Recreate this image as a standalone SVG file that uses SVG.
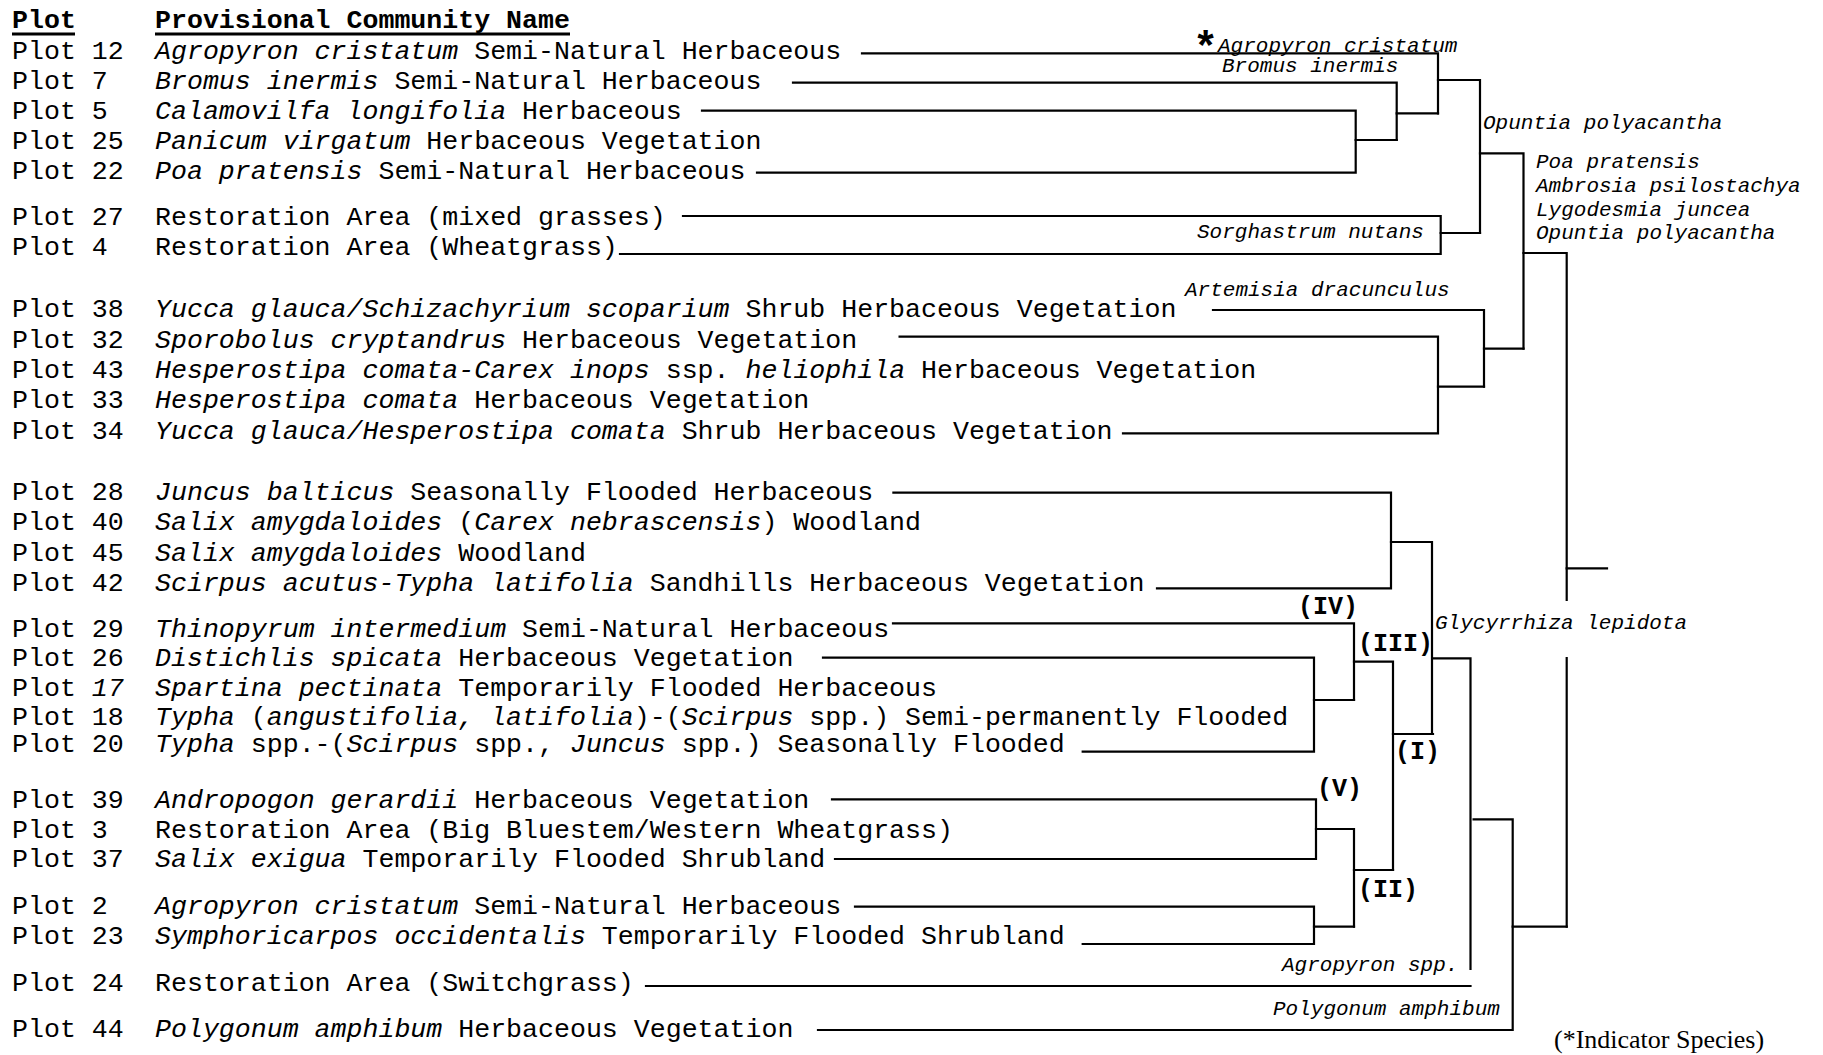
<svg xmlns="http://www.w3.org/2000/svg" width="1823" height="1055" viewBox="0 0 1823 1055">
<style>
.t{font-family:"Liberation Mono","Courier New",monospace;font-size:26.6px;fill:#000}
.i{font-style:italic}
.h{font-weight:bold}
.lbl{font-family:"Liberation Mono","Courier New",monospace;font-size:21px;font-style:italic;fill:#000}
.b{font-family:"Liberation Mono","Courier New",monospace;font-size:25px;font-weight:bold;fill:#000}
.ln{stroke:#000;stroke-width:2.2;fill:none;stroke-linecap:square}
.ul{stroke:#000;stroke-width:3}
.note{font-family:"Liberation Serif","Times New Roman",serif;font-size:26px;fill:#000}
</style>
<rect width="1823" height="1055" fill="#fff"/>
<g id="header">
<text class="t h" x="12" y="28">Plot</text>
<text class="t h" x="155" y="28">Provisional Community Name</text>
<line class="ul" x1="12" y1="34" x2="75" y2="34"/>
<line class="ul" x1="155" y1="34" x2="570" y2="34"/>
</g>
<g id="leaves">
<g id="plot-12"><text class="t" x="12" y="59">Plot 12</text><text class="t" x="155" y="59" xml:space="preserve"><tspan class="i">Agropyron cristatum</tspan> Semi-Natural Herbaceous</text></g>
<g id="plot-7"><text class="t" x="12" y="89">Plot 7</text><text class="t" x="155" y="89" xml:space="preserve"><tspan class="i">Bromus inermis</tspan> Semi-Natural Herbaceous</text></g>
<g id="plot-5"><text class="t" x="12" y="119">Plot 5</text><text class="t" x="155" y="119" xml:space="preserve"><tspan class="i">Calamovilfa longifolia</tspan> Herbaceous</text></g>
<g id="plot-25"><text class="t" x="12" y="149">Plot 25</text><text class="t" x="155" y="149" xml:space="preserve"><tspan class="i">Panicum virgatum</tspan> Herbaceous Vegetation</text></g>
<g id="plot-22"><text class="t" x="12" y="179">Plot 22</text><text class="t" x="155" y="179" xml:space="preserve"><tspan class="i">Poa pratensis</tspan> Semi-Natural Herbaceous</text></g>
<g id="plot-27"><text class="t" x="12" y="225">Plot 27</text><text class="t" x="155" y="225">Restoration Area (mixed grasses)</text></g>
<g id="plot-4"><text class="t" x="12" y="255">Plot 4</text><text class="t" x="155" y="255">Restoration Area (Wheatgrass)</text></g>
<g id="plot-38"><text class="t" x="12" y="317">Plot 38</text><text class="t" x="155" y="317" xml:space="preserve"><tspan class="i">Yucca glauca/Schizachyrium scoparium</tspan> Shrub Herbaceous Vegetation</text></g>
<g id="plot-32"><text class="t" x="12" y="348">Plot 32</text><text class="t" x="155" y="348" xml:space="preserve"><tspan class="i">Sporobolus cryptandrus</tspan> Herbaceous Vegetation</text></g>
<g id="plot-43"><text class="t" x="12" y="378">Plot 43</text><text class="t" x="155" y="378" xml:space="preserve"><tspan class="i">Hesperostipa comata-Carex inops</tspan> ssp. <tspan class="i">heliophila</tspan> Herbaceous Vegetation</text></g>
<g id="plot-33"><text class="t" x="12" y="408">Plot 33</text><text class="t" x="155" y="408" xml:space="preserve"><tspan class="i">Hesperostipa comata</tspan> Herbaceous Vegetation</text></g>
<g id="plot-34"><text class="t" x="12" y="439">Plot 34</text><text class="t" x="155" y="439" xml:space="preserve"><tspan class="i">Yucca glauca/Hesperostipa comata</tspan> Shrub Herbaceous Vegetation</text></g>
<g id="plot-28"><text class="t" x="12" y="500">Plot 28</text><text class="t" x="155" y="500" xml:space="preserve"><tspan class="i">Juncus balticus</tspan> Seasonally Flooded Herbaceous</text></g>
<g id="plot-40"><text class="t" x="12" y="530">Plot 40</text><text class="t" x="155" y="530" xml:space="preserve"><tspan class="i">Salix amygdaloides</tspan> (<tspan class="i">Carex nebrascensis</tspan>) Woodland</text></g>
<g id="plot-45"><text class="t" x="12" y="561">Plot 45</text><text class="t" x="155" y="561" xml:space="preserve"><tspan class="i">Salix amygdaloides</tspan> Woodland</text></g>
<g id="plot-42"><text class="t" x="12" y="591">Plot 42</text><text class="t" x="155" y="591" xml:space="preserve"><tspan class="i">Scirpus acutus-Typha latifolia</tspan> Sandhills Herbaceous Vegetation</text></g>
<g id="plot-29"><text class="t" x="12" y="637">Plot 29</text><text class="t" x="155" y="637" xml:space="preserve"><tspan class="i">Thinopyrum intermedium</tspan> Semi-Natural Herbaceous</text></g>
<g id="plot-26"><text class="t" x="12" y="666">Plot 26</text><text class="t" x="155" y="666" xml:space="preserve"><tspan class="i">Distichlis spicata</tspan> Herbaceous Vegetation</text></g>
<g id="plot-17"><text class="t" x="12" y="696" xml:space="preserve">Plot <tspan class="i">17</tspan></text><text class="t" x="155" y="696" xml:space="preserve"><tspan class="i">Spartina pectinata</tspan> Temporarily Flooded Herbaceous</text></g>
<g id="plot-18"><text class="t" x="12" y="725">Plot 18</text><text class="t" x="155" y="725" xml:space="preserve"><tspan class="i">Typha</tspan> (<tspan class="i">angustifolia, latifolia</tspan>)-(<tspan class="i">Scirpus</tspan> spp.) Semi-permanently Flooded</text></g>
<g id="plot-20"><text class="t" x="12" y="752">Plot 20</text><text class="t" x="155" y="752" xml:space="preserve"><tspan class="i">Typha</tspan> spp.-(<tspan class="i">Scirpus</tspan> spp., <tspan class="i">Juncus</tspan> spp.) Seasonally Flooded</text></g>
<g id="plot-39"><text class="t" x="12" y="808">Plot 39</text><text class="t" x="155" y="808" xml:space="preserve"><tspan class="i">Andropogon gerardii</tspan> Herbaceous Vegetation</text></g>
<g id="plot-3"><text class="t" x="12" y="838">Plot 3</text><text class="t" x="155" y="838">Restoration Area (Big Bluestem/Western Wheatgrass)</text></g>
<g id="plot-37"><text class="t" x="12" y="867">Plot 37</text><text class="t" x="155" y="867" xml:space="preserve"><tspan class="i">Salix exigua</tspan> Temporarily Flooded Shrubland</text></g>
<g id="plot-2"><text class="t" x="12" y="914">Plot 2</text><text class="t" x="155" y="914" xml:space="preserve"><tspan class="i">Agropyron cristatum</tspan> Semi-Natural Herbaceous</text></g>
<g id="plot-23"><text class="t" x="12" y="944">Plot 23</text><text class="t" x="155" y="944" xml:space="preserve"><tspan class="i">Symphoricarpos occidentalis</tspan> Temporarily Flooded Shrubland</text></g>
<g id="plot-24"><text class="t" x="12" y="991">Plot 24</text><text class="t" x="155" y="991">Restoration Area (Switchgrass)</text></g>
<g id="plot-44"><text class="t" x="12" y="1037">Plot 44</text><text class="t" x="155" y="1037" xml:space="preserve"><tspan class="i">Polygonum amphibum</tspan> Herbaceous Vegetation</text></g>
</g>
<g id="connectors">
<path class="ln" d="M862,53.3 H1438 V113.3"/>
<path class="ln" d="M793,82.7 H1396.7 V140"/>
<path class="ln" d="M1396.7,113.3 H1438"/>
<path class="ln" d="M702,110.7 H1355.7 V172.7 H757"/>
<path class="ln" d="M1355.7,140 H1396.7"/>
<path class="ln" d="M1438,80 H1480 V233"/>
<path class="ln" d="M683,216 H1440.7 V254 H620"/>
<path class="ln" d="M1440.7,233 H1480"/>
<path class="ln" d="M1480,153.3 H1523.5 V348.7"/>
<path class="ln" d="M1213,310 H1484 V386.7"/>
<path class="ln" d="M899.6,336.7 H1438 V433.3 H1123"/>
<path class="ln" d="M1438,386.7 H1484"/>
<path class="ln" d="M1484,348.7 H1523.5"/>
<path class="ln" d="M1523.5,253 H1566.7 V600"/>
<path class="ln" d="M1566.7,658 V926.7"/>
<path class="ln" d="M1566.7,568.3 H1607"/>
<path class="ln" d="M893.4,492.7 H1391 V588.3 H1157"/>
<path class="ln" d="M1391,542 H1432 V734"/>
<path class="ln" d="M893,623.3 H1354 V700"/>
<path class="ln" d="M823,657.7 H1314 V751.7 H1082.7"/>
<path class="ln" d="M1314,700 H1354"/>
<path class="ln" d="M1354,661.7 H1393 V870"/>
<path class="ln" d="M1393,734 H1433"/>
<path class="ln" d="M1433,658.3 H1470.5 V969"/>
<path class="ln" d="M832,799.3 H1316 V859 H835"/>
<path class="ln" d="M1316,829 H1354 V926.7"/>
<path class="ln" d="M855,906.7 H1314 V944 H1082.7"/>
<path class="ln" d="M1314,926.7 H1354"/>
<path class="ln" d="M1354,870 H1393"/>
<path class="ln" d="M646,986 H1470.5"/>
<path class="ln" d="M1473.6,819.3 H1512.7 V1030 H818"/>
<path class="ln" d="M1512.7,926.7 H1566.7"/>
</g>
<g id="species-labels">
<text class="b" x="1193" y="61" style="font-size:42px">*</text>
<text class="lbl" x="1218" y="52">Agropyron cristatum</text>
<text class="lbl" x="1222" y="72">Bromus inermis</text>
<text class="lbl" x="1483" y="129">Opuntia polyacantha</text>
<text class="lbl" x="1536" y="168">Poa pratensis</text>
<text class="lbl" x="1536" y="192">Ambrosia psilostachya</text>
<text class="lbl" x="1536" y="216">Lygodesmia juncea</text>
<text class="lbl" x="1536" y="239">Opuntia polyacantha</text>
<text class="lbl" x="1197" y="238">Sorghastrum nutans</text>
<text class="lbl" x="1185" y="296">Artemisia dracunculus</text>
<text class="lbl" x="1435" y="629">Glycyrrhiza lepidota</text>
<text class="lbl" x="1282" y="971">Agropyron spp.</text>
<text class="lbl" x="1273" y="1015">Polygonum amphibum</text>
</g>
<g id="group-labels">
<text class="b" x="1298" y="614">(IV)</text>
<text class="b" x="1358" y="651">(III)</text>
<text class="b" x="1395" y="759">(I)</text>
<text class="b" x="1317" y="796">(V)</text>
<text class="b" x="1358" y="897">(II)</text>
</g>
<g id="legend">
<text class="note" x="1554" y="1048">(*Indicator Species)</text>
</g>
</svg>
